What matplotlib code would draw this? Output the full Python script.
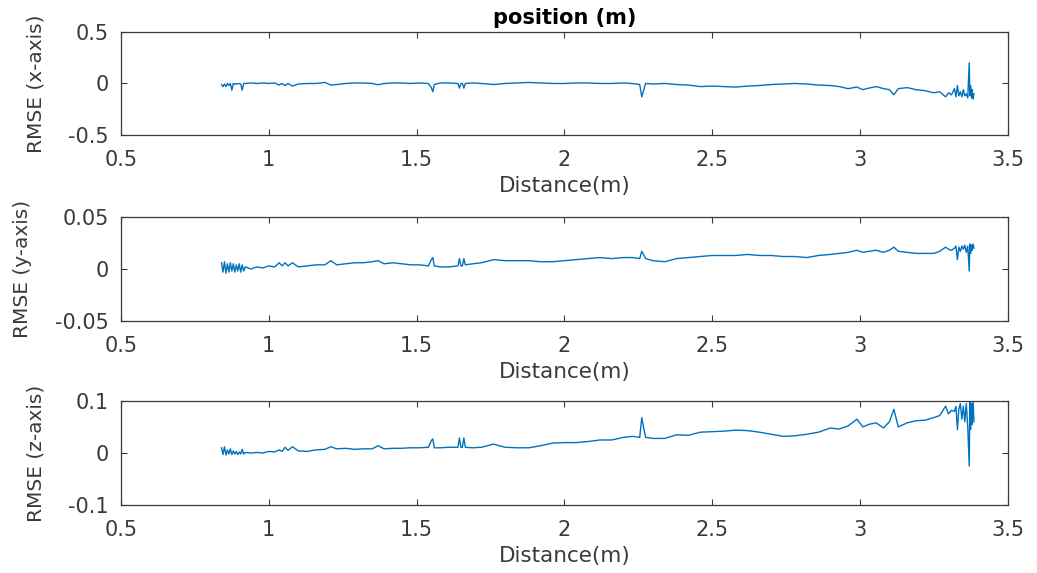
"""RMSE of position along x, y, z versus distance (three stacked panels)."""

import matplotlib
matplotlib.use("Agg")
import matplotlib.pyplot as plt

dist = [0.840, 0.845, 0.850, 0.855, 0.860, 0.865, 0.870, 0.875, 0.880, 0.885,
        0.890, 0.895, 0.900, 0.905, 0.910, 0.915, 0.920, 0.94, 0.96, 0.98,
        1.00, 1.02, 1.035, 1.045, 1.055, 1.065, 1.08, 1.10, 1.13, 1.16,
        1.19, 1.21, 1.23, 1.26, 1.29, 1.32, 1.35, 1.37, 1.39, 1.42,
        1.45, 1.48, 1.51, 1.54, 1.550, 1.555, 1.560, 1.58, 1.61, 1.64,
        1.645, 1.650, 1.655, 1.660, 1.665, 1.69, 1.72, 1.76, 1.80, 1.84,
        1.88, 1.92, 1.96, 2.00, 2.04, 2.08, 2.12, 2.16, 2.20, 2.23,
        2.255, 2.262, 2.268, 2.275, 2.30, 2.34, 2.38, 2.42, 2.46, 2.50,
        2.54, 2.58, 2.62, 2.66, 2.70, 2.74, 2.78, 2.82, 2.86, 2.90,
        2.93, 2.96, 2.99, 3.01, 3.03, 3.055, 3.08, 3.10, 3.115, 3.13,
        3.16, 3.19, 3.22, 3.25, 3.27, 3.29, 3.30, 3.31, 3.32, 3.325,
        3.33, 3.335, 3.34, 3.345, 3.35, 3.355, 3.36, 3.365, 3.37, 3.372,
        3.375, 3.378, 3.38, 3.383, 3.386]

rmse_x = [-0.01, -0.03, -0.005, -0.03, 0.0, -0.02, 0.0, -0.065, 0.0, -0.01,
          0.0, -0.005, 0.0, -0.005, -0.065, 0.0, 0.0, 0.005, 0.0, 0.005,
          0.0, 0.005, -0.015, 0.0, -0.02, 0.0, -0.025, -0.005, 0.0, 0.0,
          0.01, -0.015, -0.01, 0.0, 0.005, 0.005, 0.0, -0.012, 0.0, 0.005,
          0.005, 0.0, 0.005, 0.0, -0.04, -0.08, -0.01, 0.005, 0.005, 0.0,
          -0.045, 0.0, 0.0, -0.045, 0.0, 0.005, 0.0, -0.01, 0.0, 0.005,
          0.01, 0.005, 0.0, 0.0, 0.005, 0.005, 0.0, 0.0, 0.005, 0.0,
          -0.01, -0.13, -0.07, 0.0, -0.005, 0.0, -0.01, -0.015, -0.03, -0.025,
          -0.03, -0.035, -0.025, -0.02, -0.01, -0.005, 0.0, -0.005, -0.015, -0.02,
          -0.03, -0.05, -0.035, -0.06, -0.045, -0.03, -0.05, -0.06, -0.11, -0.05,
          -0.04, -0.06, -0.07, -0.09, -0.08, -0.13, -0.09, -0.11, -0.05, -0.13,
          -0.02, -0.12, -0.08, -0.13, -0.06, -0.12, -0.10, -0.14, 0.20, -0.12,
          -0.02, -0.14, -0.06, -0.15, -0.10]

rmse_y = [0.006, -0.003, 0.007, -0.004, 0.005, -0.003, 0.006, -0.002, 0.005, -0.003,
          0.004, -0.002, 0.005, -0.003, 0.004, -0.002, 0.002, 0.0, 0.002, 0.001,
          0.003, 0.002, 0.006, 0.003, 0.006, 0.003, 0.006, 0.002, 0.003, 0.004,
          0.004, 0.008, 0.004, 0.005, 0.006, 0.006, 0.007, 0.008, 0.005, 0.006,
          0.005, 0.004, 0.004, 0.003, 0.009, 0.011, 0.003, 0.002, 0.002, 0.003,
          0.010, 0.003, 0.003, 0.010, 0.004, 0.005, 0.006, 0.009, 0.008, 0.008,
          0.008, 0.007, 0.007, 0.008, 0.009, 0.010, 0.011, 0.010, 0.011, 0.011,
          0.010, 0.017, 0.014, 0.010, 0.008, 0.007, 0.010, 0.011, 0.012, 0.013,
          0.013, 0.013, 0.014, 0.013, 0.013, 0.012, 0.012, 0.011, 0.013, 0.014,
          0.015, 0.016, 0.018, 0.016, 0.017, 0.018, 0.016, 0.018, 0.021, 0.017,
          0.016, 0.015, 0.015, 0.015, 0.017, 0.021, 0.019, 0.018, 0.020, 0.022,
          0.009, 0.021, 0.017, 0.022, 0.019, 0.023, 0.016, 0.022, -0.002, 0.024,
          0.015, 0.023, 0.018, 0.024, 0.020]

rmse_z = [0.010, -0.003, 0.012, -0.004, 0.006, -0.002, 0.008, -0.003, 0.004, -0.002,
          0.003, -0.003, 0.002, -0.002, 0.007, -0.002, 0.001, 0.0, 0.001, 0.0,
          0.003, 0.002, 0.006, 0.003, 0.011, 0.005, 0.012, 0.004, 0.003, 0.006,
          0.007, 0.012, 0.008, 0.009, 0.007, 0.008, 0.008, 0.014, 0.008, 0.009,
          0.009, 0.010, 0.010, 0.011, 0.024, 0.027, 0.010, 0.010, 0.011, 0.011,
          0.029, 0.011, 0.011, 0.029, 0.011, 0.010, 0.011, 0.017, 0.011, 0.010,
          0.010, 0.014, 0.019, 0.020, 0.020, 0.022, 0.025, 0.025, 0.030, 0.032,
          0.030, 0.068, 0.050, 0.030, 0.028, 0.028, 0.035, 0.034, 0.040, 0.041,
          0.042, 0.044, 0.043, 0.040, 0.036, 0.032, 0.033, 0.036, 0.040, 0.048,
          0.046, 0.052, 0.065, 0.050, 0.055, 0.058, 0.048, 0.060, 0.084, 0.050,
          0.058, 0.062, 0.063, 0.068, 0.072, 0.090, 0.075, 0.082, 0.080, 0.090,
          0.045, 0.085, 0.095, 0.065, 0.090, 0.060, 0.095, 0.050, -0.025, 0.098,
          0.045, 0.095, 0.055, 0.100, 0.060]

panels = [
    (rmse_x, "RMSE (x-axis)", 0.5, [-0.5, 0, 0.5], ["-0.5", "0", "0.5"]),
    (rmse_y, "RMSE (y-axis)", 0.05, [-0.05, 0, 0.05], ["-0.05", "0", "0.05"]),
    (rmse_z, "RMSE (z-axis)", 0.1, [-0.1, 0, 0.1], ["-0.1", "0", "0.1"]),
]
x_ticks = [0.5, 1, 1.5, 2, 2.5, 3, 3.5]
x_labels = ["0.5", "1", "1.5", "2", "2.5", "3", "3.5"]

assert len(dist) == len(rmse_x) == len(rmse_y) == len(rmse_z)

plt.rcParams["font.family"] = ["DejaVu Sans"]
plt.rcParams["axes.unicode_minus"] = False

fig = plt.figure(figsize=(10.37, 5.73), dpi=100)
boxes = [(0.1167, 0.7644, 0.855, 0.1798),
         (0.1167, 0.4398, 0.855, 0.1815),
         (0.1167, 0.1187, 0.855, 0.1815)]
grey = "#3a3a3a"
for (vals, ylabel, lim, yt, ytl), box in zip(panels, boxes):
    ax = fig.add_axes(box)
    ax.plot(dist, vals, color="#0072BD", lw=1.0)
    ax.set_xlim(0.5, 3.5)
    ax.set_ylim(-lim, lim)
    ax.set_xticks(x_ticks, x_labels)
    ax.set_yticks(yt, ytl)
    ax.tick_params(direction="in", top=True, right=True, length=4,
                   width=0.8, colors=grey, labelsize=15)
    ax.tick_params(axis="x", pad=11)
    ax.tick_params(axis="y", pad=9)
    for s in ax.spines.values():
        s.set_color(grey)
        s.set_linewidth(0.9)
    ax.set_xlabel("Distance(m)", fontsize=15.5, color=grey, labelpad=4)
    ax.set_ylabel(ylabel, fontsize=14.5, color=grey, labelpad=16)
    if ylabel.startswith("RMSE (x"):
        ax.set_title("position (m)", fontsize=15, fontweight="bold",
                     color="black", pad=6)

fig.savefig("out.png", dpi=100)
